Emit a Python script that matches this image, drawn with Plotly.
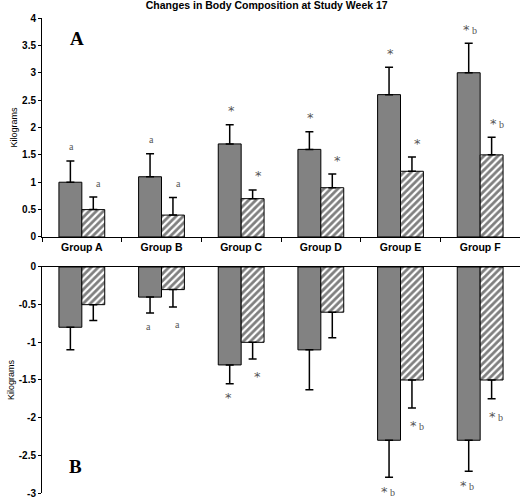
import plotly.graph_objects as go

groups = ["Group A", "Group B", "Group C", "Group D", "Group E", "Group F"]

# panel A (gain), kg
gain_gray = [1.0, 1.1, 1.7, 1.6, 2.6, 3.0]
gain_gray_err = [0.39, 0.42, 0.35, 0.32, 0.5, 0.54]
gain_hatch = [0.5, 0.4, 0.7, 0.9, 1.2, 1.5]
gain_hatch_err = [0.23, 0.32, 0.16, 0.25, 0.26, 0.32]
gain_gray_marks = ["a", "a", "*", "*", "*", "* b"]
gain_hatch_marks = ["a", "a", "*", "*", "*", "* b"]

# panel B (loss), kg
loss_gray = [-0.8, -0.4, -1.3, -1.1, -2.3, -2.3]
loss_gray_err = [0.3, 0.21, 0.25, 0.53, 0.49, 0.41]
loss_hatch = [-0.5, -0.3, -1.0, -0.6, -1.5, -1.5]
loss_hatch_err = [0.21, 0.23, 0.22, 0.34, 0.37, 0.25]
loss_gray_marks = ["", "a", "*", "", "* b", "* b"]
loss_hatch_marks = ["", "a", "*", "", "* b", "* b"]

top_ticks = [0, 0.5, 1, 1.5, 2, 2.5, 3, 3.5, 4]
top_ticktext = ["0", "0.5", "1", "1.5", "2", "2.5", "3", "3.5", "4"]
bottom_ticks = [0, -0.5, -1, -1.5, -2, -2.5, -3]
bottom_ticktext = ["0", "-0.5", "-1", "-1.5", "-2", "-2.5", "-3"]

GRAY = "#828282"
zeros = [0] * len(groups)


def err(up, down, width=4):
    return dict(type="data", symmetric=False, array=up, arrayminus=down,
                color="black", thickness=1.5, width=width)


def gray_marker():
    return dict(color=GRAY, line=dict(color="black", width=1))


def hatch_marker():
    return dict(color="white", line=dict(color="black", width=1),
                pattern=dict(shape="/", fgcolor="black", bgcolor="white",
                             size=5, solidity=0.55))


fig = go.Figure()
fig.add_trace(go.Bar(x=groups, y=gain_gray, marker=gray_marker(),
                     error_y=err(gain_gray_err, zeros), xaxis="x", yaxis="y"))
fig.add_trace(go.Bar(x=groups, y=gain_hatch, marker=hatch_marker(),
                     error_y=err(gain_hatch_err, zeros), xaxis="x", yaxis="y"))
fig.add_trace(go.Bar(x=groups, y=loss_gray, marker=gray_marker(),
                     error_y=err(zeros, loss_gray_err), xaxis="x2", yaxis="y2"))
fig.add_trace(go.Bar(x=groups, y=loss_hatch, marker=hatch_marker(),
                     error_y=err(zeros, loss_hatch_err), xaxis="x2", yaxis="y2"))


def fmt(s):
    # heavier asterisk, small serif letters
    return s.replace("*", "<span style='font-family:DejaVu Sans;font-size:13px'>*</span>")


notes = []
for i, g in enumerate(groups):
    for val, mark, xs, ys, ax in [
        (gain_gray[i] + gain_gray_err[i], gain_gray_marks[i], -10, 14, ""),
        (gain_hatch[i] + gain_hatch_err[i], gain_hatch_marks[i], 17, 14, ""),
        (loss_gray[i] - loss_gray_err[i], loss_gray_marks[i], -13, -14, "2"),
        (loss_hatch[i] - loss_hatch_err[i], loss_hatch_marks[i], 16, -18, "2"),
    ]:
        if not mark:
            continue
        notes.append(dict(x=g, y=val, xref="x" + ax, yref="y" + ax,
                          text=fmt(mark), showarrow=False, xshift=xs, yshift=ys,
                          font=dict(family="Liberation Serif", size=10, color="#555555")))

notes.append(dict(x=0.054, y=0.983, xref="paper", yref="paper", text="<b>A</b>",
                  showarrow=False, font=dict(family="Liberation Serif", size=19, color="black")))
notes.append(dict(x=0.052, y=0.0295, xref="paper", yref="paper", text="<b>B</b>",
                  showarrow=False, font=dict(family="Liberation Serif", size=19, color="black")))

tickfont = dict(family="Liberation Sans", size=10, color="black", weight="bold")
ytitle = dict(text="Kilograms", font=dict(family="Liberation Sans", size=9, color="black"), standoff=2)

fig.update_layout(
    width=520, height=500,
    margin=dict(l=42, r=0, t=18, b=7),
    paper_bgcolor="white", plot_bgcolor="white",
    showlegend=False,
    barmode="group", bargap=0.425, bargroupgap=0,
    font=dict(family="Liberation Sans", color="black"),
    title=dict(text="Changes in Body Composition at Study Week 17", x=0.513, y=0.99,
               xanchor="center", yanchor="middle",
               font=dict(family="Liberation Sans", size=10.5, weight="bold", color="black")),
    xaxis=dict(domain=[0, 1], anchor="y", type="category", range=[-0.5, 5.5],
               showline=True, linecolor="black", linewidth=1, ticks="outside",
               tickson="boundaries", ticklen=4, tickcolor="black",
               tickfont=dict(family="Liberation Sans", size=10.5, color="black", weight="bold"),
               showgrid=False, automargin=False),
    yaxis=dict(domain=[0.539, 1], anchor="x", range=[0, 4], tickvals=top_ticks,
               ticktext=top_ticktext, showline=True, linecolor="black", linewidth=1,
               ticks="outside", ticklen=3, tickcolor="black", tickfont=tickfont,
               showgrid=False, zeroline=False, title=ytitle, automargin=False),
    xaxis2=dict(domain=[0, 1], anchor="y2", type="category", range=[-0.5, 5.5], side="top",
                showline=True, linecolor="black", linewidth=1, showticklabels=False,
                ticks="", showgrid=False, automargin=False),
    yaxis2=dict(domain=[0, 0.4758], anchor="x2", range=[-3, 0], tickvals=bottom_ticks,
                ticktext=bottom_ticktext, showline=True, linecolor="black", linewidth=1,
                ticks="outside", ticklen=3, tickcolor="black", tickfont=tickfont,
                showgrid=False, zeroline=False, title=ytitle, automargin=False),
    annotations=notes,
)

# the page's default 8px body margin would push the figure off the window
fig.write_html("out.html", config={"displayModeBar": False},
               post_script="document.body.style.margin='0';")
